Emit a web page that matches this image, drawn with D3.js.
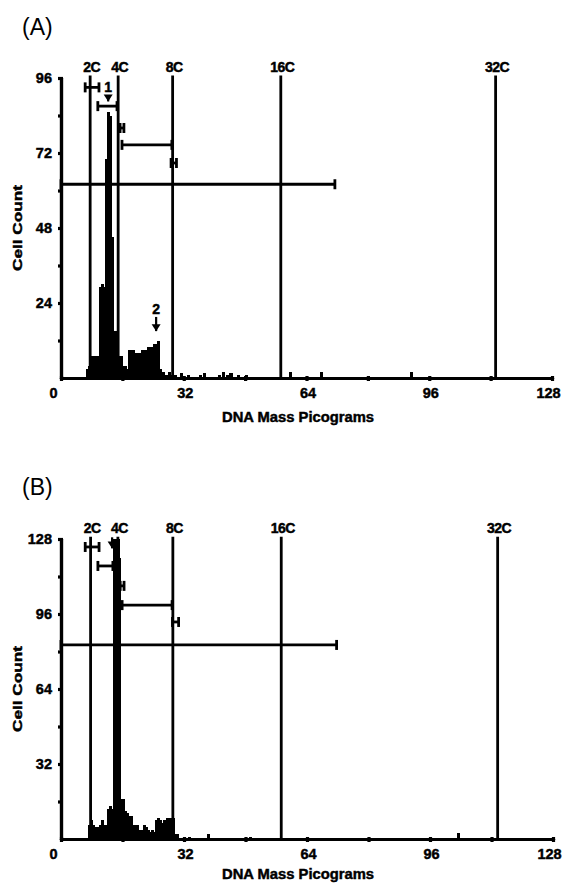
<!DOCTYPE html>
<html><head><meta charset="utf-8">
<script src="https://cdn.jsdelivr.net/npm/d3@7/dist/d3.min.js"></script>
<style>
html,body{margin:0;padding:0;background:#fff;}
svg text{font-family:"Liberation Sans",Arial,sans-serif;fill:#000;}
</style></head>
<body>
<svg id="chart" width="567" height="883"></svg>
<script>
// ---------------- DATA ----------------
const xMajorTicks = [0, 32, 64, 96, 128];
const xMinorTicks = [16, 48, 80, 112];
const yMajorTicksA = [24, 48, 72, 96];
const yMinorTicksA = [12, 36, 60, 84];
const yMajorTicksB = [32, 64, 96, 128];
const yMinorTicksB = [16, 48, 80, 112];
const ploidyLabels = ["2C", "4C", "8C", "16C", "32C"];
const ploidyPosA = [7.6, 14.9, 29.1, 57.3, 113.3];
const ploidyPosB = [7.7, 14.8, 29.1, 57.3, 113.6];
const binWidth = 0.5;

// Panel A histogram (bin start, pg / count)
const binStartA = [6.5,7,7.5,8,8.5,9,9.5,10,10.5,11,11.5,12,12.5,13,13.5,14,14.5,15,15.5,16,16.5,17,17.5,18,18.5,19,19.5,20,20.5,21,21.5,22,22.5,23,23.5,24,24.5,25,25.5,26,26.5,27,27.5,28,28.5,29.5];
const countA    = [3,4,4,7,6,7,7,29,30,29,70,85,84,45,15,15,14,7,7,4,4,3,9,9,9,8,7,8,8,9,9,9,10,10,10,11,11,12,3,1,2,1,1,2,1,1];
const tailStartA = [31,33,36,37,41,42,43,44,46,48,59.5,67.5,91];
const tailCountA = [1.5,1,1,1.5,1,2,1,1.5,1,1,2,2,2];

// Panel B histogram
const binStartB = [7,7.5,8,8.5,9,9.5,10,10.5,11,11.5,12,12.5,13,13.5,14,14.5,15,15.5,16,16.5,17,17.5,18,18.5,19,19.5,20,20.5,21,21.5,22,22.5,23,23.5,24,24.5,25,25.5,26,26.5,27,27.5,28,28.5,29,29.5,30];
const countB    = [6,8,6,5,5,5,6,8,6,6,13,14,13,128,128,128,120,17,17,12,11,10,10,6,6,6,4,3,4,6,5,4,3,4,3,8,9,8,7,8,8,9,9,9,9,2,2];
const tailStartB = [33,38,49,103];
const tailCountB = [1,2,1,2.5];

// Horizontal range bars (y level, low, high)
const rangeYA  = [93, 87, 80, 74.6, 68.8, 62];
const rangeLoA = [6.3, 9.6, 15.4, 15.9, 28.7, 0];
const rangeHiA = [9.9, 14.6, 16.4, 28.9, 30.1, 71.4];
const rangeYB  = [124.6, 116.5, 108, 99.8, 92.6, 82.8];
const rangeLoB = [6.3, 9.6, 15.4, 15.9, 29.0, 0];
const rangeHiB = [9.9, 13.5, 16.4, 28.9, 30.6, 71.7];

// Peak markers (x, text y, arrow tip)
const markerLabelsA = ["1", "2"];
const markerXA = [12.3, 24.8];
const markerTextYA = [91.5, 20.5];
const markerTipYA = [88.5, 15];
const markerLabelsB = [""];
const markerXB = [13.3];
const markerTextYB = [130];
const markerTipYB = [124];

// ---------------- DRAW ----------------
const svg = d3.select("#chart");

function heavy(sel) {
  return sel.style("font-weight", "bold").attr("stroke", "#000").attr("stroke-width", 0.45);
}

function drawPanel(cfg) {
  const g = svg.append("g");
  const x = d3.scaleLinear().domain([0, 128]).range(cfg.xr);
  const y = d3.scaleLinear().domain([0, cfg.yMax]).range(cfg.yr);

  // panel letter
  g.append("text").attr("x", 22).attr("y", cfg.letterY)
    .style("font-size", "23px").text(cfg.letter);

  // ploidy reference lines
  g.selectAll(".ploidy").data(cfg.ploidy).enter().append("line")
    .attr("x1", d => x(d)).attr("x2", d => x(d))
    .attr("y1", y(0)).attr("y2", y(cfg.lineTop))
    .attr("stroke", "#000").attr("stroke-width", 2.8);
  heavy(g.selectAll(".plab").data(cfg.ploidy).enter().append("text")
    .attr("x", (d) => x(d) + 1.5).attr("y", y(cfg.lineTop) - 4)
    .attr("text-anchor", "middle")
    .style("font-size", "14px")
    .style("letter-spacing", "-0.5px")
    .text((d, i) => ploidyLabels[i]));

  // histogram
  const bars = cfg.bins.map((s, i) => ({s, c: cfg.counts[i]}))
    .concat(cfg.tailBins.map((s, i) => ({s, c: cfg.tailCounts[i]})));
  g.selectAll(".bar").data(bars).enter().append("rect")
    .attr("x", d => x(d.s) - 0.3)
    .attr("width", d => x(d.s + binWidth) - x(d.s) + 1.2)
    .attr("y", d => y(d.c))
    .attr("height", d => y(0) - y(d.c))
    .attr("fill", "#000")
    .attr("shape-rendering", "crispEdges");

  // range bars
  cfg.rangeY.forEach((v, i) => {
    const yy = y(v), x0 = x(cfg.rangeLo[i]), x1 = x(cfg.rangeHi[i]);
    g.append("line").attr("x1", x0).attr("x2", x1).attr("y1", yy).attr("y2", yy)
      .attr("stroke", "#000").attr("stroke-width", 2.8);
    [x0, x1].forEach(xx => g.append("line")
      .attr("x1", xx).attr("x2", xx).attr("y1", yy - 5).attr("y2", yy + 5)
      .attr("stroke", "#000").attr("stroke-width", 2.8));
  });

  // markers
  cfg.markerX.forEach((mx, i) => {
    const px = x(mx);
    if (cfg.markerLabels[i]) {
      heavy(g.append("text").attr("x", px).attr("y", y(cfg.markerTextY[i]))
        .attr("text-anchor", "middle").style("font-size", "14px")
        .text(cfg.markerLabels[i]));
    }
    const top = y(cfg.markerTextY[i]) + 3, tip = y(cfg.markerTipY[i]);
    g.append("line").attr("x1", px).attr("x2", px).attr("y1", top).attr("y2", tip)
      .attr("stroke", "#000").attr("stroke-width", 2.2);
    g.append("path")
      .attr("d", `M${px - 4.5},${tip - 7}L${px + 4.5},${tip - 7}L${px},${tip}Z`)
      .attr("fill", "#000");
  });

  // axes
  const xAxis = g.append("g").attr("transform", `translate(0,${y(0)})`)
    .call(d3.axisBottom(x).tickValues(xMajorTicks).tickSize(3).tickSizeOuter(0).tickPadding(7));
  const xMinor = g.append("g").attr("transform", `translate(0,${y(0)})`)
    .call(d3.axisBottom(x).tickValues(xMinorTicks).tickSize(3).tickSizeOuter(0).tickFormat(""));
  const yAxis = g.append("g").attr("transform", `translate(${x(0)},0)`)
    .call(d3.axisLeft(y).tickValues(cfg.yMajor).tickSize(3).tickSizeOuter(0).tickPadding(6));
  const yMinor = g.append("g").attr("transform", `translate(${x(0)},0)`)
    .call(d3.axisLeft(y).tickValues(cfg.yMinor).tickSize(3).tickSizeOuter(0).tickFormat(""));
  [xAxis, xMinor, yAxis, yMinor].forEach(a => {
    a.select(".domain").attr("stroke", "#000").attr("stroke-width", 3.2).attr("stroke-linecap", "round");
    a.selectAll(".tick line").attr("stroke", "#000").attr("stroke-width", 3.2);
    heavy(a.selectAll(".tick text").style("font-size", "14.5px")
      .style("font-family", "'Liberation Sans',Arial,sans-serif").attr("fill", "#000"));
  });
  xAxis.selectAll(".tick text")
    .attr("dx", d => d === 0 ? -8 : (d === 128 ? -4 : 1));
  xAxis.selectAll(".tick line").attr("y1", -2);
  xMinor.selectAll(".tick line").attr("y1", -2);
  yAxis.selectAll(".tick line").attr("x1", 2);
  yMinor.selectAll(".tick line").attr("x1", 2);

  // axis titles
  heavy(g.append("text").attr("x", 298).attr("y", y(0) + cfg.titleOffset)
    .attr("text-anchor", "middle").style("font-size", "14px")
    .attr("textLength", 152).attr("lengthAdjust", "spacingAndGlyphs")
    .text("DNA Mass Picograms"));
  const cy = (y(0) + y(cfg.yMax)) / 2;
  heavy(g.append("text").attr("transform", `translate(22,${cy}) rotate(-90)`)
    .attr("text-anchor", "middle").style("font-size", "13px")
    .attr("textLength", 86).attr("lengthAdjust", "spacingAndGlyphs")
    .text("Cell Count"));
}

drawPanel({
  letter: "(A)", letterY: 35, titleOffset: 44,
  xr: [61, 552], yr: [378, 78], yMax: 96, lineTop: 96.8,
  yMajor: yMajorTicksA, yMinor: yMinorTicksA,
  ploidy: ploidyPosA,
  bins: binStartA, counts: countA, tailBins: tailStartA, tailCounts: tailCountA,
  rangeY: rangeYA, rangeLo: rangeLoA, rangeHi: rangeHiA,
  markerLabels: markerLabelsA, markerX: markerXA, markerTextY: markerTextYA, markerTipY: markerTipYA
});
drawPanel({
  letter: "(B)", letterY: 495, titleOffset: 40,
  xr: [61, 553], yr: [839, 539], yMax: 128, lineTop: 129,
  yMajor: yMajorTicksB, yMinor: yMinorTicksB,
  ploidy: ploidyPosB,
  bins: binStartB, counts: countB, tailBins: tailStartB, tailCounts: tailCountB,
  rangeY: rangeYB, rangeLo: rangeLoB, rangeHi: rangeHiB,
  markerLabels: markerLabelsB, markerX: markerXB, markerTextY: markerTextYB, markerTipY: markerTipYB
});
</script>
</body></html>
